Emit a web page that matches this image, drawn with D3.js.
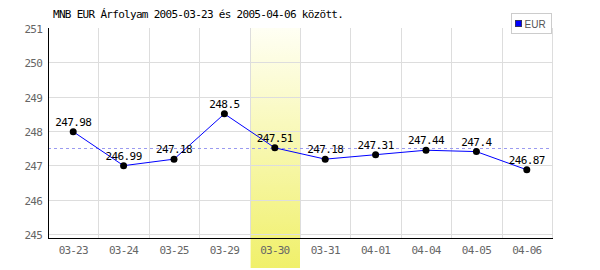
<!DOCTYPE html>
<html>
<head>
<meta charset="utf-8">
<script src="https://cdn.jsdelivr.net/npm/d3@7"></script>
<style>
  body { margin: 0; background: #fff; }
  text { font-family: "DejaVu Sans Mono", monospace; }
</style>
</head>
<body>
<svg id="chart" width="600" height="270"></svg>
<script>
// data
const days = ["03-23", "03-24", "03-25", "03-29", "03-30", "03-31", "04-01", "04-04", "04-05", "04-06"];
const rates = [247.98, 246.99, 247.18, 248.5, 247.51, 247.18, 247.31, 247.44, 247.4, 246.87];
const yTicks = [245, 246, 247, 248, 249, 250, 251];
const highlightDay = "03-30";
const title = "MNB EUR Árfolyam 2005-03-23 és 2005-04-06 között.";
const seriesName = "EUR";

const svg = d3.select("#chart");
const plotLeft = 48, plotRight = 552, plotTop = 28, plotBottom = 238;

const x = d3.scaleBand().domain(days).range([plotLeft, plotRight]);
const y = d3.scaleLinear().domain([245, 251]).range([234, plotTop]);

// highlight gradient
const grad = svg.append("defs").append("linearGradient")
    .attr("id", "hl").attr("x1", 0).attr("y1", 0).attr("x2", 0).attr("y2", 1);
grad.append("stop").attr("offset", "0%").attr("stop-color", "#fffff4");
grad.append("stop").attr("offset", "100%").attr("stop-color", "#f0f06a");

svg.append("rect")
    .attr("x", x(highlightDay) + 1)
    .attr("y", plotTop)
    .attr("width", x.bandwidth() - 1)
    .attr("height", 268 - plotTop)
    .attr("fill", "url(#hl)");

// grid
svg.append("g").selectAll("line")
    .data(yTicks.filter(d => d < 251))
    .join("line")
    .attr("x1", plotLeft).attr("x2", plotRight)
    .attr("y1", d => Math.round(y(d)) + 0.5).attr("y2", d => Math.round(y(d)) + 0.5)
    .attr("stroke", "#dddddd");

svg.append("g").selectAll("line")
    .data(days)
    .join("line")
    .attr("x1", d => Math.round(x(d) + x.bandwidth()) + 0.5)
    .attr("x2", d => Math.round(x(d) + x.bandwidth()) + 0.5)
    .attr("y1", plotTop).attr("y2", plotBottom)
    .attr("stroke", "#dddddd");

// reference line at the highlighted day's value
const hlValue = rates[days.indexOf(highlightDay)];
svg.append("line")
    .attr("x1", plotLeft).attr("x2", plotRight)
    .attr("y1", Math.round(y(hlValue)) + 0.5).attr("y2", Math.round(y(hlValue)) + 0.5)
    .attr("stroke", "#9a9af0")
    .attr("stroke-dasharray", "3,3");

// axes
const yAxis = d3.axisLeft(y).tickValues(yTicks).tickFormat(d3.format("d")).tickSize(0).tickPadding(6);
const gy = svg.append("g").attr("transform", `translate(${plotLeft},0)`).call(yAxis);
gy.select(".domain").remove();
gy.selectAll("text")
    .attr("fill", "#666")
    .style("font-size", "11px")
    .style("letter-spacing", "-0.8px")
    .attr("dy", "0.4em");

const xAxis = d3.axisBottom(x).tickSize(0).tickPadding(6);
const gx = svg.append("g").attr("transform", `translate(0,${plotBottom})`).call(xAxis);
gx.select(".domain").remove();
gx.selectAll("text")
    .attr("fill", "#666")
    .style("font-size", "11px")
    .style("letter-spacing", "-0.8px")
    .attr("dy", "0.9em");

svg.append("line")
    .attr("x1", plotLeft + 0.5).attr("x2", plotLeft + 0.5)
    .attr("y1", plotTop).attr("y2", plotBottom + 1)
    .attr("stroke", "#000");
svg.append("line")
    .attr("x1", plotLeft).attr("x2", plotRight + 1)
    .attr("y1", plotBottom + 0.5).attr("y2", plotBottom + 0.5)
    .attr("stroke", "#000");

// series
const cx = d => x(d) + x.bandwidth() / 2;
const line = d3.line()
    .x((d, i) => cx(days[i]))
    .y(d => y(d));

svg.append("path")
    .datum(rates)
    .attr("fill", "none")
    .attr("stroke", "#0000ff")
    .attr("stroke-width", 1)
    .attr("d", line);

svg.append("g").selectAll("circle")
    .data(rates)
    .join("circle")
    .attr("cx", (d, i) => cx(days[i]))
    .attr("cy", d => y(d))
    .attr("r", 3.5)
    .attr("fill", "#000");

svg.append("g").selectAll("text")
    .data(rates)
    .join("text")
    .attr("x", (d, i) => cx(days[i]))
    .attr("y", d => y(d) - 6)
    .attr("text-anchor", "middle")
    .attr("fill", "#000")
    .style("font-size", "11px")
    .style("letter-spacing", "-0.6px")
    .text(d => d);

// title
svg.append("text")
    .attr("x", 53).attr("y", 18)
    .attr("fill", "#000")
    .style("font-size", "11px")
    .style("letter-spacing", "-0.7px")
    .text(title);

// legend
const lg = svg.append("g").attr("transform", "translate(511.5,13.5)");
lg.append("rect").attr("width", 40).attr("height", 20)
    .attr("fill", "#fff").attr("stroke", "#cccccc");
lg.append("rect").attr("x", 4).attr("y", 7).attr("width", 6).attr("height", 6)
    .attr("fill", "#0000ff").attr("stroke", "#333366");
lg.append("text").attr("x", 13).attr("y", 14)
    .attr("fill", "#555")
    .style("font-family", "'Liberation Sans', Arial, sans-serif")
    .style("font-size", "10px")
    .text(seriesName);
</script>
</body>
</html>
